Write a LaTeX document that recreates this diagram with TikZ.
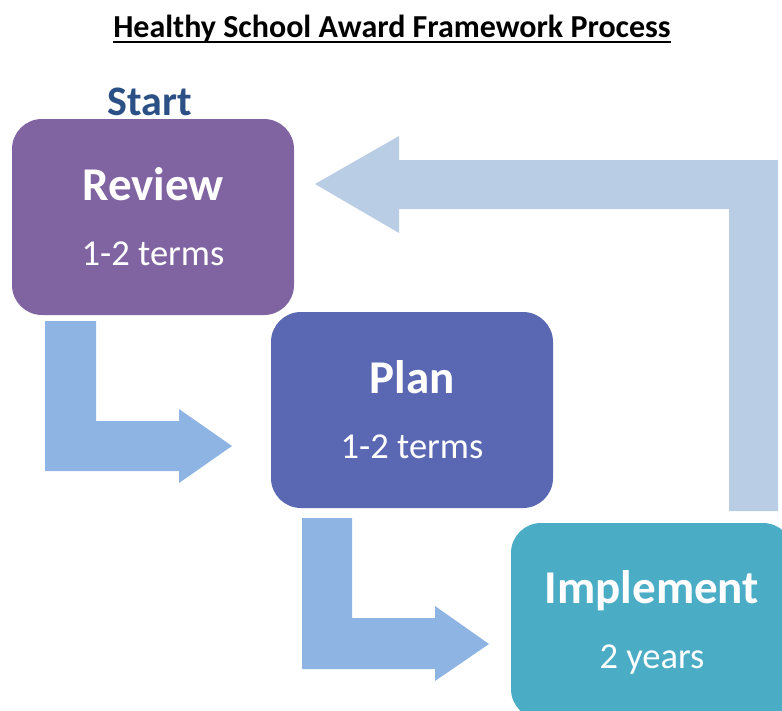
\documentclass[tikz,border=0pt]{standalone}
\usepackage{fontspec}
\setmainfont{Carlito}
\definecolor{reviewc}{HTML}{8064A2}
\definecolor{planc}{HTML}{5A68B3}
\definecolor{implc}{HTML}{4BACC6}
\definecolor{arrowc}{HTML}{8EB4E3}
\definecolor{backc}{HTML}{B9CDE5}
\definecolor{startc}{HTML}{2A5085}
\begin{document}
\begin{tikzpicture}[x=1pt,y=-1pt,
  box/.style={rounded corners=30pt,minimum width=282pt,minimum height=196pt,inner sep=0pt,draw=none},
  headtxt/.style={anchor=base,text=white,font=\fontsize{47}{51}\selectfont\bfseries,inner sep=0pt},
  subtxt/.style={anchor=base,text=white,font=\fontsize{36.5}{40}\selectfont,inner sep=0pt},
  blockarrow/.style={fill=arrowc,draw=none},
  backarrow/.style={fill=backc,draw=none}]
\useasboundingbox (0,0) rectangle (782,710);
\begin{scope}
\clip (0,0) rectangle (782,710);
% title
\node[anchor=base,inner sep=0pt,font=\fontsize{32}{36}\selectfont\bfseries] (title) at (392,37) {Healthy School Award Framework Process};
\draw[line width=2pt] (title.base west) ++(0,5) coordinate (ul1) -- (ul1 -| title.base east);
\node[anchor=base,inner sep=0pt,text=startc,font=\fontsize{42}{46}\selectfont\bfseries] (start) at (150,115) {Start};
% return arrow
\path[backarrow] (778,511) -- (778,160) -- (399,160) -- (399,136) -- (315,184) -- (399,233) -- (399,209) -- (729,209) -- (729,511) -- cycle;
% boxes
\node[box,fill=reviewc] (review) at (153,217) {};
\node[box,fill=planc] (plan) at (412,410) {};
\node[box,fill=implc] (impl) at (652,621) {};
% texts
\node[headtxt] (reviewt) at (153,200) {Review};
\node[subtxt] (reviews) at (153,265) {1-2 terms};
\node[headtxt] (plant) at (412,393) {Plan};
\node[subtxt] (plans) at (412,458) {1-2 terms};
\node[headtxt] (implt) at (652,603) {Implement};
\node[subtxt] (impls) at (652,668) {2 years};
% down-right arrows
\path[blockarrow] (45,321) -- (96,321) -- (96,421) -- (179,421) -- (179,409) -- (232,446) -- (179,483) -- (179,471) -- (45,471) -- cycle;
\path[blockarrow] (302,518) -- (352,518) -- (352,618) -- (435,618) -- (435,606) -- (489,644) -- (435,681) -- (435,669) -- (302,669) -- cycle;
\end{scope}
\end{tikzpicture}
\end{document}
